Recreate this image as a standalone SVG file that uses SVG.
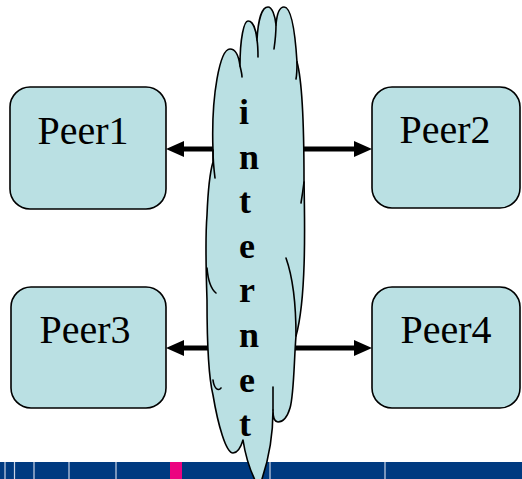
<svg xmlns="http://www.w3.org/2000/svg" width="522" height="479" viewBox="0 0 522 479">
<style>
.box{fill:#BAE0E3;stroke:#000;stroke-width:1.6}
.lbl{font-family:"Liberation Serif","Times New Roman",serif;font-size:40px;fill:#000;text-anchor:middle}
.arr{stroke:#000;stroke-width:5;fill:none;marker-end:url(#ah)}
.cloud{fill:#BAE0E3;stroke:#000;stroke-width:1.6;stroke-linejoin:round}
.cusp{fill:none;stroke:#000;stroke-width:1.6;stroke-linecap:round}
.vt{font-family:"Liberation Serif","Times New Roman",serif;font-size:36px;font-weight:bold;fill:#000}
.sep{stroke:#C9D3E4;stroke-width:1.2}
</style>
<defs>
<marker id="ah" markerUnits="userSpaceOnUse" markerWidth="18" markerHeight="16" refX="8" refY="8" orient="auto">
<path d="M0,0 L18,8 L0,16 z" fill="#000"/>
</marker>
</defs>
<g id="footer">
<rect x="0" y="462" width="522" height="17" fill="#003A80"/>
<rect x="170" y="462" width="12" height="17" fill="#EC0480"/>
<line class="sep" x1="5" y1="462" x2="5" y2="479"/>
<line class="sep" x1="14.5" y1="462" x2="14.5" y2="479"/>
<line class="sep" x1="34" y1="462" x2="34" y2="479"/>
<line class="sep" x1="69" y1="462" x2="69" y2="479"/>
<line class="sep" x1="116" y1="462" x2="116" y2="479"/>
<line class="sep" x1="270" y1="462" x2="270" y2="479"/>
<line class="sep" x1="385" y1="462" x2="385" y2="479"/>
</g>
<g id="connectors">
<line class="arr" x1="225" y1="149" x2="176" y2="149"/>
<line class="arr" x1="290" y1="149" x2="362" y2="149"/>
<line class="arr" x1="225" y1="348" x2="176" y2="348"/>
<line class="arr" x1="290" y1="348" x2="362" y2="348"/>
</g>
<g id="peer1">
<rect class="box" x="10" y="87" width="156" height="122" rx="20"/>
<text class="lbl" x="83" y="144">Peer1</text>
</g>
<g id="peer2">
<rect class="box" x="372" y="87" width="148" height="121" rx="20"/>
<text class="lbl" x="445" y="143">Peer2</text>
</g>
<g id="peer3">
<rect class="box" x="11" y="287" width="155" height="121" rx="20"/>
<text class="lbl" x="85" y="343">Peer3</text>
</g>
<g id="peer4">
<rect class="box" x="372" y="287" width="148" height="121" rx="20"/>
<text class="lbl" x="446" y="343">Peer4</text>
</g>
<g id="internet">
<path class="cloud" d="M213 150 C211 95 220 49 230 49 C236 49 239 58 240 66 C240 38 244 21 248 21 C253 21 256 30 257 40 C258 20 262 7 268 7 C272 7 275 15 276 25 C277 12 280 7 284 7 C291 7 295 30 297 62 C302 80 304 120 304 180 C305 230 306 300 296 336 C294 360 294 395 290 408 C287 418 282 422 278 422 C275 422 273 418 273 410 C273 430 270 455 262 479 L258 486 C252 475 246 460 243 440 C240 450 237 453 233 453 C226 453 218 425 213 395 C208 375 207 330 207 300 C206 270 205 240 207 215 C208 190 210 172 213 162 Z"/>
<path class="cusp" d="M240 66 C241 70 242 74 242 77"/>
<path class="cusp" d="M257 40 C258 46 258 52 258 57"/>
<path class="cusp" d="M276 25 C276 33 275 42 274 49"/>
<path class="cusp" d="M297 62 C297 68 297 74 296 79"/>
<path class="cusp" d="M213 150 C213 160 214 170 215 178"/>
<path class="cusp" d="M304 182 C303 190 302 197 301 203"/>
<path class="cusp" d="M207 268 C208 280 211 289 216 293"/>
<path class="cusp" d="M286 258 C292 275 296 300 296 336"/>
<path class="cusp" d="M213 380 C214 388 218 392 221 388"/>
<path class="cusp" d="M273 387 C273 396 273 404 273 410"/>
<text class="vt" x="239" y="124">i</text>
<text class="vt" x="239" y="168.6">n</text>
<text class="vt" x="239" y="213.2">t</text>
<text class="vt" x="239" y="257.8">e</text>
<text class="vt" x="239" y="302.4">r</text>
<text class="vt" x="239" y="347">n</text>
<text class="vt" x="239" y="391.6">e</text>
<text class="vt" x="239" y="436.2">t</text>
</g>
</svg>
